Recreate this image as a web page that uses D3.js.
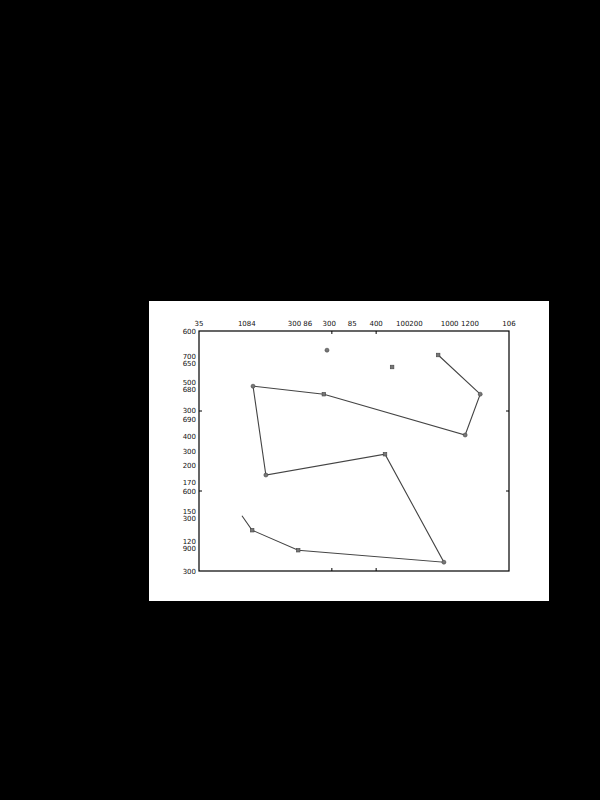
<!DOCTYPE html>
<html>
<head>
<meta charset="utf-8">
<script src="https://cdn.jsdelivr.net/npm/d3@7"></script>
<style>
html,body{margin:0;padding:0;background:#000;}
svg{display:block;}
</style>
</head>
<body>
<svg id="chart" width="600" height="800"></svg>
<script>
// Path series (x, y in data units) with marker kinds
const pathX = [0.97, 1.20, 2.24, 5.53, 4.20, 1.51, 1.22, 2.82, 6.01, 6.35, 5.40];
const pathY = [0.69, 0.51, 0.26, 0.11, 1.46, 1.20, 2.31, 2.21, 1.70, 2.21, 2.70];
const pathMarker = ["none", "square", "square", "circle", "square", "circle", "circle", "square", "circle", "circle", "square"];
// Isolated points
const soloX = [2.89, 4.36];
const soloY = [2.76, 2.55];
const soloMarker = ["circle", "square"];
// Axis ticks
const xTicks = [3, 4];
const yTicks = [1, 2];
// Tick label texts and their positions in data units
const topLabelText = ["35", "1084", "300 86", "300", "85", "400", "100200", "1000", "1200", "106"];
const topLabelX = [0, 1.08, 2.28, 2.94, 3.46, 4.0, 4.75, 5.66, 6.12, 7.0];
const leftLabelText = ["600", "700", "650", "500", "680", "300", "690", "400", "300", "200", "170", "600", "150", "300", "120", "900", "300"];
const leftLabelY = [3.0, 2.68, 2.59, 2.36, 2.27, 2.01, 1.89, 1.68, 1.49, 1.32, 1.11, 0.99, 0.75, 0.66, 0.37, 0.28, 0.0];

const svg = d3.select("#chart");
svg.append("rect").attr("x",0).attr("y",0).attr("width",600).attr("height",800).attr("fill","#000");
svg.append("rect").attr("x",149).attr("y",301).attr("width",400).attr("height",300).attr("fill","#fff");

const L = 199, R = 509, T = 331, B = 571;
const x = d3.scaleLinear().domain([0, 7]).range([L, R]);
const y = d3.scaleLinear().domain([0, 3]).range([B, T]);

const g = svg.append("g");
const tickLen = 3;
g.selectAll(".tt").data(xTicks).join("line")
  .attr("x1", d => x(d)).attr("x2", d => x(d)).attr("y1", T).attr("y2", T + tickLen)
  .attr("stroke", "#000");
g.selectAll(".tb").data(xTicks).join("line")
  .attr("x1", d => x(d)).attr("x2", d => x(d)).attr("y1", B).attr("y2", B - tickLen)
  .attr("stroke", "#000");
g.selectAll(".tl").data(yTicks).join("line")
  .attr("y1", d => y(d)).attr("y2", d => y(d)).attr("x1", L).attr("x2", L + tickLen)
  .attr("stroke", "#000");
g.selectAll(".tr").data(yTicks).join("line")
  .attr("y1", d => y(d)).attr("y2", d => y(d)).attr("x1", R).attr("x2", R - tickLen)
  .attr("stroke", "#000");

g.append("rect").attr("x", L).attr("y", T).attr("width", R - L).attr("height", B - T)
  .attr("fill", "none").attr("stroke", "#000").attr("stroke-width", 1.2);

const font = "'DejaVu Sans', sans-serif";
g.selectAll(".toplab").data(topLabelText).join("text")
  .attr("x", (d, i) => x(topLabelX[i])).attr("y", T - 5)
  .attr("text-anchor", "middle").attr("font-family", font).attr("font-size", 7)
  .attr("fill", "#111").text(d => d);
g.selectAll(".leftlab").data(leftLabelText).join("text")
  .attr("x", L - 3).attr("y", (d, i) => y(leftLabelY[i]) + 2.5)
  .attr("text-anchor", "end").attr("font-family", font).attr("font-size", 7)
  .attr("fill", "#111").text(d => d);

const pts = pathX.map((v, i) => [v, pathY[i], pathMarker[i]]);
g.append("path").datum(pts)
  .attr("d", d3.line().x(d => x(d[0])).y(d => y(d[1])))
  .attr("fill", "none").attr("stroke", "#444").attr("stroke-width", 1.1);

function drawMarkers(data) {
  data.forEach(d => {
    if (d[2] === "circle") {
      g.append("circle").attr("cx", x(d[0])).attr("cy", y(d[1])).attr("r", 2)
        .attr("fill", "#777").attr("stroke", "#444").attr("stroke-width", 0.6);
    } else if (d[2] === "square") {
      g.append("rect").attr("x", x(d[0]) - 1.8).attr("y", y(d[1]) - 1.8)
        .attr("width", 3.6).attr("height", 3.6)
        .attr("fill", "#777").attr("stroke", "#444").attr("stroke-width", 0.6);
    }
  });
}
drawMarkers(pts);
drawMarkers(soloX.map((v, i) => [v, soloY[i], soloMarker[i]]));
</script>
</body>
</html>
